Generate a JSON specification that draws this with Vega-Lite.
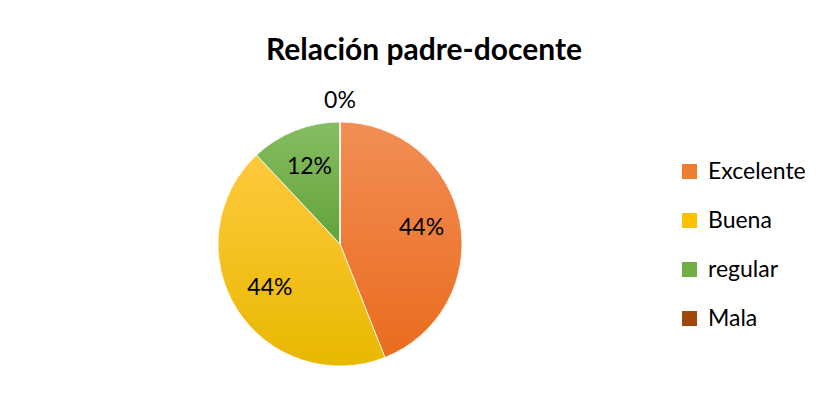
{
  "$schema": "https://vega.github.io/schema/vega-lite/v6.json",
  "width": 668,
  "height": 472,
  "autosize": {"type": "none"},
  "padding": {"left": 6, "top": 8, "right": 149, "bottom": 0},
  "background": "white",
  "config": {"view": {"stroke": null}},
  "title": {
    "text": "Relación padre-docente",
    "font": "Lato",
    "fontSize": 30,
    "fontWeight": "bold",
    "color": "#000000",
    "anchor": "middle",
    "dx": 84,
    "offset": -58
  },
  "data": {
    "values": [
      {"cat": "Excelente", "v": 0.44, "orden": 1},
      {"cat": "Buena", "v": 0.44, "orden": 2},
      {"cat": "regular", "v": 0.12, "orden": 3},
      {"cat": "Mala", "v": 0.0, "orden": 4}
    ]
  },
  "encoding": {
    "theta": {"field": "v", "type": "quantitative", "stack": true},
    "order": {"field": "orden", "type": "quantitative"}
  },
  "layer": [
    {
      "mark": {"type": "arc", "outerRadius": 122, "stroke": "white", "strokeWidth": 0.8},
      "encoding": {
        "color": {
          "field": "cat",
          "type": "nominal",
          "scale": {
            "domain": ["Excelente", "Buena", "regular", "Mala"],
            "range": ["#ED7D31", "#FFC000", "#70AD47", "#9E480E"]
          },
          "legend": {
            "title": null,
            "orient": "none",
            "legendX": 672,
            "legendY": 152,
            "symbolType": "square",
            "symbolSize": 225,
            "symbolStrokeWidth": 0,
            "labelFont": "Lato",
            "labelFontSize": 23,
            "labelColor": "#000000",
            "labelOffset": 7,
            "rowPadding": 25
          }
        }
      }
    },
    {
      "mark": {"type": "arc", "outerRadius": 122, "stroke": "white", "strokeWidth": 0.8},
      "encoding": {
        "fill": {
          "condition": [
            {"test": "datum.cat == 'Excelente'", "value": {"gradient": "linear", "x1": 0, "y1": 0, "x2": 0, "y2": 1, "stops": [{"offset": 0, "color": "#F28E56"}, {"offset": 1, "color": "#E96C1D"}]}},
            {"test": "datum.cat == 'Buena'", "value": {"gradient": "linear", "x1": 0, "y1": 0, "x2": 0, "y2": 1, "stops": [{"offset": 0, "color": "#FFC93D"}, {"offset": 1, "color": "#E9B800"}]}},
            {"test": "datum.cat == 'regular'", "value": {"gradient": "linear", "x1": 0, "y1": 0, "x2": 0, "y2": 1, "stops": [{"offset": 0, "color": "#86BD62"}, {"offset": 1, "color": "#63A338"}]}}
          ],
          "value": "#9E480E"
        }
      }
    },
    {
      "transform": [{"filter": "datum.v > 0"}],
      "mark": {"type": "text", "radius": 83, "font": "Lato", "fontSize": 23, "color": "#000000"},
      "encoding": {"text": {"field": "v", "type": "quantitative", "format": ".0%"}}
    },
    {
      "transform": [{"filter": "datum.v == 0"}],
      "mark": {"type": "text", "radius": 143, "font": "Lato", "fontSize": 23, "color": "#000000"},
      "encoding": {"text": {"field": "v", "type": "quantitative", "format": ".0%"}}
    }
  ]
}
